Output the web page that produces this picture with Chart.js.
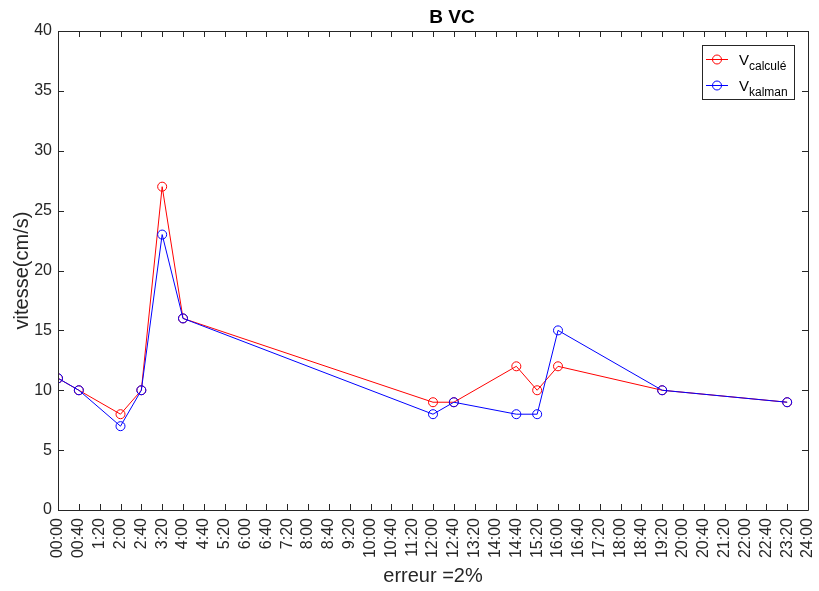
<!DOCTYPE html>
<html>
<head>
<meta charset="utf-8">
<script src="https://cdn.jsdelivr.net/npm/chart.js@4/dist/chart.umd.min.js"></script>
<style>
  html, body { margin: 0; padding: 0; background: #fff; }
  #wrap { width: 819px; height: 591px; }
</style>
</head>
<body>
<div id="wrap"><canvas id="vc"></canvas></div>
<script>
// time of each measurement, in minutes since 00:00
const times = [0, 40, 120, 160, 200, 240, 720, 760, 880, 920, 960, 1160, 1400];
// measured speed (cm/s)
const vCalcule = [11, 10, 8, 10, 27, 16, 9, 9, 12, 10, 12, 10, 9];
const vKalman = [11, 10, 7, 10, 23, 16, 8, 9, 8, 8, 15, 10, 9];

// x tick labels, one every 40 minutes
const xTickLabels = ['00:00', '00:40', '1:20', '2:00', '2:40', '3:20', '4:00', '4:40', '5:20', '6:00',
  '6:40', '7:20', '8:00', '8:40', '9:20', '10:00', '10:40', '11:20', '12:00', '12:40', '13:20',
  '14:00', '14:40', '15:20', '16:00', '16:40', '17:20', '18:00', '18:40', '19:20', '20:00',
  '20:40', '21:20', '22:00', '22:40', '23:20', '24:00'];
const yTicks = [0, 5, 10, 15, 20, 25, 30, 35, 40];

const seriesNames = [['V', 'calculé'], ['V', 'kalman']];
const seriesColors = ['#ff0000', '#0000ff'];
const chartTitle = 'B VC';

const axisColor = '#262626';
const fontFamily = '"Liberation Sans", Arial, sans-serif';

function toPoints(vals) {
  return vals.map((v, i) => ({ x: times[i], y: v }));
}

// MATLAB style box, inward ticks, title and legend with subscripts
const matlabFrame = {
  id: 'matlabFrame',
  afterDraw(chart) {
    const ctx = chart.ctx;
    const a = chart.chartArea;
    const xs = chart.scales.x, ys = chart.scales.y;
    ctx.save();
    ctx.strokeStyle = axisColor;
    ctx.lineWidth = 1;
    ctx.beginPath();
    ctx.rect(Math.round(a.left) + 0.5, Math.round(a.top) + 0.5,
      Math.round(a.right - a.left), Math.round(a.bottom - a.top));
    // inward ticks
    const tl = 6;
    xs.ticks.forEach(t => {
      const px = Math.round(xs.getPixelForValue(t.value)) + 0.5;
      ctx.moveTo(px, a.bottom); ctx.lineTo(px, a.bottom - tl);
      ctx.moveTo(px, a.top); ctx.lineTo(px, a.top + tl);
    });
    ys.ticks.forEach(t => {
      const py = Math.round(ys.getPixelForValue(t.value)) + 0.5;
      ctx.moveTo(a.left, py); ctx.lineTo(a.left + tl, py);
      ctx.moveTo(a.right, py); ctx.lineTo(a.right - tl, py);
    });
    ctx.stroke();

    // title
    ctx.fillStyle = '#000';
    ctx.font = 'bold 19px ' + fontFamily;
    ctx.textAlign = 'center';
    ctx.textBaseline = 'alphabetic';
    ctx.fillText(chartTitle, 452, 23);

    // legend box
    const bx = 702.5, by = 45.5, bw = 92, bh = 54;
    ctx.fillStyle = '#fff';
    ctx.fillRect(bx, by, bw, bh);
    ctx.strokeStyle = axisColor;
    ctx.strokeRect(bx, by, bw, bh);
    const rows = [59, 85];
    seriesNames.forEach((name, i) => {
      const y = rows[i] + 0.5;
      ctx.strokeStyle = seriesColors[i];
      ctx.beginPath();
      ctx.moveTo(706, y); ctx.lineTo(728, y);
      ctx.stroke();
      ctx.beginPath();
      ctx.arc(717, y, 4.5, 0, Math.PI * 2);
      ctx.stroke();
      ctx.fillStyle = '#000';
      ctx.textAlign = 'left';
      ctx.font = '15px ' + fontFamily;
      ctx.fillText(name[0], 739, rows[i] + 6);
      const w = ctx.measureText(name[0]).width;
      ctx.font = '12px ' + fontFamily;
      ctx.fillText(name[1], 739 + w, rows[i] + 11);
    });
    ctx.restore();
  }
};

new Chart(document.getElementById('vc'), {
  type: 'line',
  data: {
    datasets: [
      {
        label: 'V calculé',
        data: toPoints(vCalcule),
        borderColor: seriesColors[0],
        backgroundColor: 'rgba(0,0,0,0)',
        pointBorderColor: seriesColors[0],
        pointBackgroundColor: 'rgba(0,0,0,0)',
        borderWidth: 1,
        pointRadius: 4.5,
        pointBorderWidth: 1,
        tension: 0,
        order: 2
      },
      {
        label: 'V kalman',
        data: toPoints(vKalman),
        borderColor: seriesColors[1],
        backgroundColor: 'rgba(0,0,0,0)',
        pointBorderColor: seriesColors[1],
        pointBackgroundColor: 'rgba(0,0,0,0)',
        borderWidth: 1,
        pointRadius: 4.5,
        pointBorderWidth: 1,
        tension: 0,
        order: 1
      }
    ]
  },
  options: {
    responsive: true,
    maintainAspectRatio: false,
    animation: false,
    layout: { padding: { top: 31, right: 11, left: 0, bottom: 0 } },
    plugins: {
      legend: { display: false },
      tooltip: { enabled: false },
      title: { display: false }
    },
    scales: {
      x: {
        type: 'linear',
        min: 0,
        max: 1440,
        afterBuildTicks(scale) {
          scale.ticks = xTickLabels.map((l, i) => ({ value: i * 40 }));
        },
        afterFit(scale) {
          scale.height = 81;
          scale.paddingRight = 0;
          scale.paddingLeft = 0;
        },
        grid: { display: false, drawTicks: false },
        border: { display: false },
        ticks: {
          autoSkip: false,
          minRotation: 90,
          maxRotation: 90,
          padding: 8,
          color: axisColor,
          font: { family: fontFamily, size: 16 },
          callback: (v, i) => xTickLabels[i]
        },
        title: {
          display: true,
          text: 'erreur =2%',
          color: axisColor,
          font: { family: fontFamily, size: 20 },
          padding: { top: 0, bottom: 3 }
        }
      },
      y: {
        min: 0,
        max: 40,
        afterBuildTicks(scale) {
          scale.ticks = yTicks.map(v => ({ value: v }));
        },
        afterFit(scale) {
          scale.width = 58;
          scale.paddingTop = 0;
          scale.paddingBottom = 0;
        },
        grid: { display: false, drawTicks: false },
        border: { display: false },
        ticks: {
          padding: 6,
          color: axisColor,
          font: { family: fontFamily, size: 16 }
        },
        title: {
          display: true,
          text: 'vitesse(cm/s)',
          color: axisColor,
          font: { family: fontFamily, size: 20 },
          padding: { top: 10, bottom: 0 }
        }
      }
    }
  },
  plugins: [matlabFrame]
});
</script>
</body>
</html>
